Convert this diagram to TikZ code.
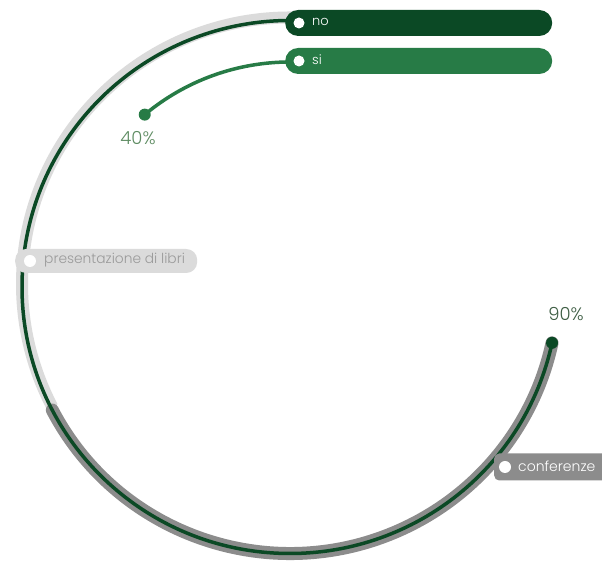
\documentclass[tikz,border=0pt]{standalone}
\usepackage{fontspec}
\setmainfont{Poppins}[UprightFont={* Light}]
\definecolor{nogreen}{HTML}{0B4925}
\definecolor{sigreen}{HTML}{277B46}
\definecolor{bandlight}{HTML}{DBDBDB}
\definecolor{banddark}{HTML}{8C8C8C}
\definecolor{labelgray}{HTML}{9A9A9A}
\definecolor{pctlight}{HTML}{5E8C62}
\definecolor{pctdark}{HTML}{3E5E44}
\begin{document}
\begin{tikzpicture}[x=1pt,y=1pt,
  lightband/.style={draw=bandlight,line width=12pt},
  darkband/.style={draw=banddark,line width=13pt,line cap=round},
  noline/.style={draw=nogreen,line width=3.5pt},
  siline/.style={draw=sigreen,line width=3.5pt},
  bar/.style={rounded corners=13pt,minimum height=26pt,inner sep=0pt,anchor=west},
  whitedot/.style={circle,fill=white,minimum size=11pt,inner sep=0pt},
  enddot/.style={circle,minimum size=12pt,inner sep=0pt},
  bartext/.style={anchor=west,text=white,inner sep=0pt,font=\fontsize{13}{15}\selectfont},
  pct/.style={font=\fontsize{18}{20}\selectfont,inner sep=0pt}]
\useasboundingbox (0,0) rectangle (602,561);
\fill[white] (0,0) rectangle (602,561);

% background bands behind the outer ring
\draw[lightband,shift={(290,277)}] (89:268 and 266.5)
  arc[start angle=89,end angle=207.5,x radius=268,y radius=266.5];
\draw[darkband,shift={(290,274)}] (207.5:268 and 266.5)
  arc[start angle=207.5,end angle=347.9,x radius=268,y radius=266.5];

% outer ring: "no"
\draw[noline,shift={(290,274)}] (90:268 and 266.5)
  arc[start angle=90,end angle=347.9,x radius=268,y radius=266.5]
  coordinate (noEnd);
\node[enddot,fill=nogreen] (noDot) at (noEnd) {};

% inner ring: "si"
\draw[siline,shift={(290,274)}] (90:226 and 225)
  arc[start angle=90,end angle=130,x radius=226,y radius=225]
  coordinate (siEnd);
\node[enddot,fill=sigreen] (siDot) at (siEnd) {};

% legend bars
\node[bar,fill=nogreen,minimum width=267pt] (noBar) at (285,538) {};
\node[whitedot] (noMark) at (299,538) {};
\node[bartext] (noText) at (312,539) {no};
\node[bar,fill=sigreen,minimum width=267pt] (siBar) at (285,500) {};
\node[whitedot] (siMark) at (299,500) {};
\node[bartext] (siText) at (312,501) {si};

% category labels on the ring
\node[bar,fill=bandlight,minimum width=182pt,minimum height=24pt,rounded corners=11pt] (libriBox) at (15,300) {};
\node[whitedot,minimum size=12pt] (libriMark) at (30,300) {};
\node[bartext,text=labelgray,font=\fontsize{13.8}{15}\selectfont] (libriText) at (44,301) {presentazione di libri};

\begin{scope}
  \clip (0,0) rectangle (602,561);
  \node[bar,fill=banddark,minimum width=140pt,minimum height=27pt,rounded corners=5pt] (confBox) at (494,94) {};
\end{scope}
\node[whitedot,minimum size=12pt] (confMark) at (505,94) {};
\node[bartext,font=\fontsize{14}{15}\selectfont] (confText) at (518,95) {conferenze};

% percentages
\node[pct,text=pctlight] (siPct) at (138,423) {40\%};
\node[pct,text=pctdark] (noPct) at (566,247) {90\%};
\end{tikzpicture}
\end{document}
